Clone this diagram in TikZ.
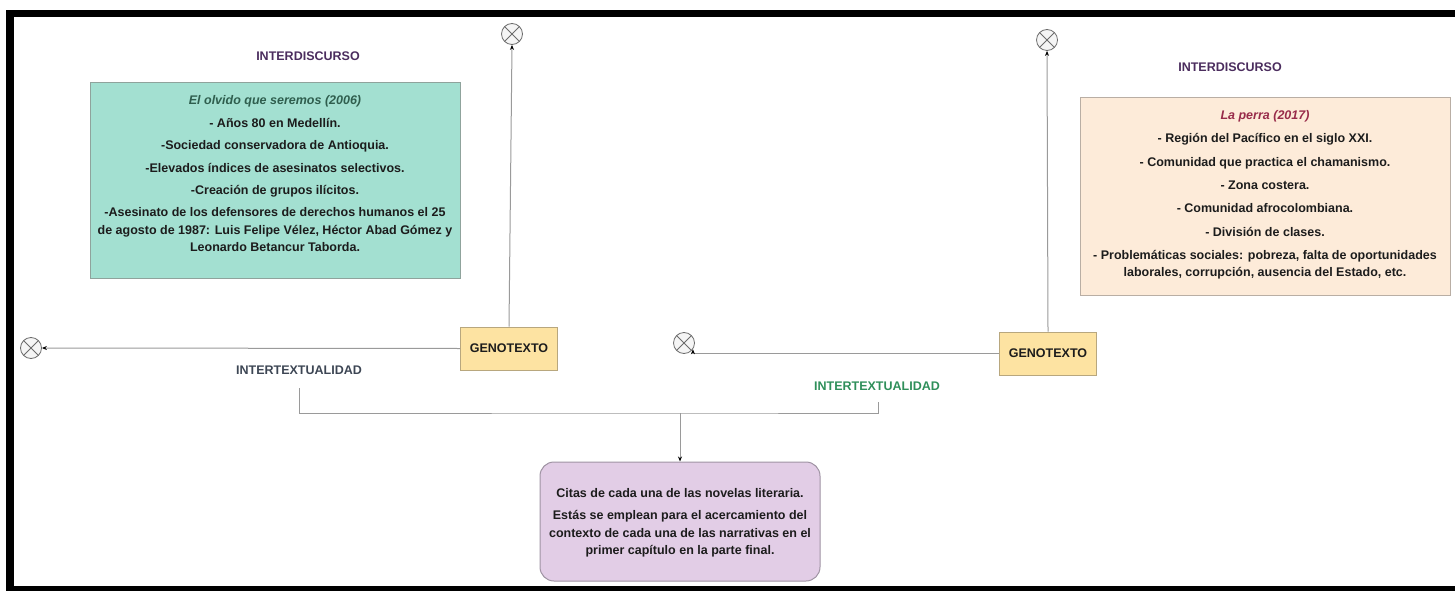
\documentclass[tikz,border=0pt]{standalone}
\usepackage{fontspec}
\setmainfont{Liberation Sans}
\usetikzlibrary{arrows.meta}
\definecolor{tealfill}{HTML}{A3E0D1}
\definecolor{tealline}{HTML}{8FA39C}
\definecolor{peachfill}{HTML}{FDEBD9}
\definecolor{peachline}{HTML}{B9AEA4}
\definecolor{genofill}{HTML}{FDE3A2}
\definecolor{genoline}{HTML}{B8A77E}
\definecolor{lilacfill}{HTML}{E2CDE6}
\definecolor{lilacline}{HTML}{9F93A3}
\definecolor{wire}{HTML}{9A9A9A}
\definecolor{discol}{HTML}{4B2D5E}
\definecolor{intcolA}{HTML}{3D4654}
\definecolor{intcolB}{HTML}{2F8F5A}
\definecolor{titleA}{HTML}{2F5E4E}
\definecolor{titleB}{HTML}{982B4A}
\definecolor{ink}{HTML}{1C1C1C}
\begin{document}
\begin{tikzpicture}[x=1pt,y=-1pt,
  txt/.style={font=\fontsize{12.5}{17.5}\selectfont\bfseries, text=ink, align=center, inner sep=0pt},
  heading/.style={font=\fontsize{12.5}{15}\selectfont\bfseries, inner sep=0pt},
  panel/.style={draw, line width=1pt, inner sep=0pt},
  genobox/.style={panel, fill=genofill, draw=genoline, minimum width=97pt, minimum height=43pt,
    font=\fontsize{12.5}{15}\selectfont\bfseries, text=ink},
  xnode/.style={circle, draw=gray!85!black, fill=gray!8, line width=0.8pt, minimum size=21pt, inner sep=0pt,
    path picture={\draw[gray!85!black, line width=0.8pt]
      (path picture bounding box.north west) -- (path picture bounding box.south east)
      (path picture bounding box.north east) -- (path picture bounding box.south west);}},
  link/.style={draw=wire, line width=1pt},
  arr/.style={link, -{Stealth[length=5pt, width=4pt, color=black]}}
]
\useasboundingbox (0,0) rectangle (1455,591);

% outer frame (black bands along top, left and bottom)
\fill[black] (6,10) rectangle (1455,17);
\fill[black] (6,10) rectangle (14,591);
\fill[black] (6,586) rectangle (1455,591);

% headings
\node[heading, text=discol] (disA) at (308,56) {INTERDISCURSO};
\node[heading, text=discol] (disB) at (1230,67) {INTERDISCURSO};
\node[heading, text=intcolA] (intA) at (299,370) {INTERTEXTUALIDAD};
\node[heading, text=intcolB] (intB) at (877,386) {INTERTEXTUALIDAD};

% left context panel
\node[panel, fill=tealfill, draw=tealline, minimum width=370pt, minimum height=195pt] (boxA) at (275,180.5) {};
\node[txt] (boxAtext) at (275,174) {%
  {\itshape\color{titleA}El olvido que seremos (2006)}\\[4.9pt]
  - Años 80 en Medellín.\\[4.9pt]
  -Sociedad conservadora de Antioquia.\\[4.9pt]
  -Elevados índices de asesinatos selectivos.\\[4.9pt]
  -Creación de grupos ilícitos.\\[4.9pt]
  -Asesinato de los defensores de derechos humanos el 25\\
  de agosto de 1987: Luis Felipe Vélez, Héctor Abad Gómez y\\
  Leonardo Betancur Taborda.};

% right context panel
\node[panel, fill=peachfill, draw=peachline, minimum width=370pt, minimum height=197pt] (boxB) at (1265,196.5) {};
\node[txt] (boxBtext) at (1265,195) {%
  {\itshape\color{titleB}La perra (2017)}\\[5.8pt]
  - Región del Pacífico en el siglo XXI.\\[5.8pt]
  - Comunidad que practica el chamanismo.\\[5.8pt]
  - Zona costera.\\[5.8pt]
  - Comunidad afrocolombiana.\\[5.8pt]
  - División de clases.\\[5.8pt]
  - Problemáticas sociales: pobreza, falta de oportunidades\\
  laborales, corrupción, ausencia del Estado, etc.};

% genotext nodes
\node[genobox] (genA) at (509,348.5) {GENOTEXTO};
\node[genobox] (genB) at (1048,353.5) {GENOTEXTO};

% endpoint markers
\node[xnode] (xA) at (512,34) {};
\node[xnode] (xB) at (31,348) {};
\node[xnode] (xC) at (1047,40) {};
\node[xnode] (xD) at (684,343) {};

% summary panel
\node[panel, fill=lilacfill, draw=lilacline, rounded corners=14pt, minimum width=280pt, minimum height=119pt] (sum) at (680,521.5) {};
\node[txt] (sumtext) at (680,523) {%
  Citas de cada una de las novelas literaria.\\[5pt]
  Estás se emplean para el acercamiento del\\
  contexto de cada una de las narrativas en el\\
  primer capítulo en la parte final.};

% connectors
\draw[arr] (genA.north) -- (xA.south);
\draw[arr] (genA.west) -- (xB.east);
\draw[arr] (genB.north) -- (xC.south);
\draw[arr] (genB.west) -| (xD.-35);

% bracket joining both intertextual readings
\coordinate (bl) at (299,388);
\coordinate (br) at (878,402);
\coordinate (bj) at (680,413);
\draw[link] (bl) |- (bj) -| (br);
\draw[arr] (bj) -- (sum.north);
\end{tikzpicture}
\end{document}
